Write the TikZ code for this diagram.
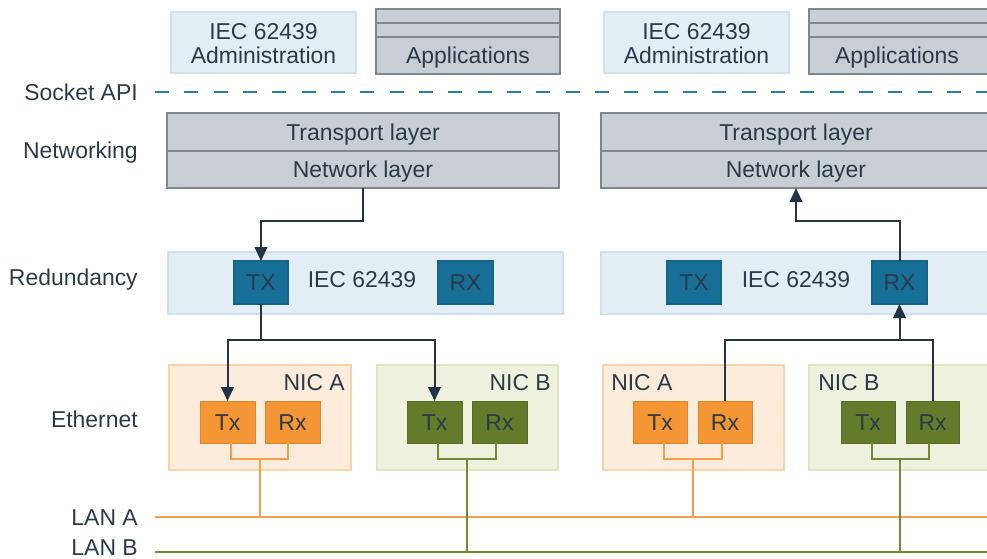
\documentclass[tikz,border=0pt]{standalone}
\usepackage{fontspec}
\setmainfont{Liberation Sans}
\usetikzlibrary{fit,arrows.meta,calc}
\definecolor{txt}{HTML}{2B3A48}
\definecolor{admfill}{HTML}{E2EEF4}
\definecolor{admdraw}{HTML}{CFE1EB}
\definecolor{grayfill}{HTML}{C8CED4}
\definecolor{graydraw}{HTML}{7E878D}
\definecolor{dashc}{HTML}{2E7FA8}
\definecolor{txfill}{HTML}{176E97}
\definecolor{txdraw}{HTML}{15648B}
\definecolor{arrowc}{HTML}{233445}
\definecolor{orangeC}{HTML}{F39633}
\definecolor{orangeL}{HTML}{F4A04A}
\definecolor{nicAfill}{HTML}{FDEBDB}
\definecolor{nicAdraw}{HTML}{FBD3AA}
\definecolor{greenC}{HTML}{657B2C}
\definecolor{greenL}{HTML}{6E8B3A}
\definecolor{nicBfill}{HTML}{EEF1DD}
\definecolor{nicBdraw}{HTML}{DFE6BE}
\begin{document}
\begin{tikzpicture}[x=0.75pt,y=-0.75pt,
  font=\fontsize{17.2}{18}\selectfont, text=txt,
  boxbase/.style={inner sep=0pt, outer sep=0pt},
  adm/.style={boxbase, fill=admfill, draw=admdraw, line width=1.2pt},
  gry/.style={boxbase, fill=grayfill, draw=graydraw, line width=1.3pt},
  trx/.style={boxbase, fill=txfill, draw=txdraw, line width=0.8pt},
  nica/.style={boxbase, fill=nicAfill, draw=nicAdraw, line width=1.2pt},
  nicb/.style={boxbase, fill=nicBfill, draw=nicBdraw, line width=1.2pt},
  porta/.style={boxbase, fill=orangeC, draw=orangeC!90!black, line width=0.5pt},
  portb/.style={boxbase, fill=greenC, draw=greenC!90!black, line width=0.5pt},
  capc/.style={inner sep=0pt, text height=12.3pt, text depth=0pt},
  txtn/.style={capc, anchor=center},
  twoln/.style={inner sep=0pt, align=center, anchor=center},
  lbl/.style={capc, anchor=east},
  flowl/.style={draw=arrowc, line width=1.5pt},
  flow/.style={flowl, -{Triangle[length=10.5pt,width=9.5pt]}},
  lanA/.style={draw=orangeL, line width=1.4pt},
  lanB/.style={draw=greenL, line width=1.4pt},
  sockline/.style={draw=dashc, line width=1.5pt, dash pattern=on 10.5pt off 11.5pt}
]
\useasboundingbox (0,0) rectangle (987,558);
\clip (0,0) rectangle (987,558);

% left labels
\node[lbl] (lSock) at (138,92) {Socket API};
\node[lbl] (lNet) at (138,150) {Networking};
\node[lbl] (lRed) at (138,277) {Redundancy};
\node[lbl] (lEth) at (138,419) {Ethernet};
\node[lbl] (lLanA) at (138,517) {LAN A};
\node[lbl] (lLanB) at (138,547) {LAN B};

% socket API line and LAN lines
\coordinate (sockS) at (155,92);
\coordinate (sockE) at (990,92);
\draw[sockline] (sockS) -- (sockE);
\coordinate (lanAS) at (155,517);
\coordinate (lanAE) at (990,517);
\coordinate (lanBS) at (155,552);
\coordinate (lanBE) at (990,552);
\draw[lanA] (lanAS) -- (lanAE);
\draw[lanB] (lanBS) -- (lanBE);

% top row
\node[adm, fit={(171,12)(356,73)}] (admL) {};
\node[twoln] (admLt) at (263.5,44) {IEC 62439\\Administration};
\node[gry, fit={(376,9)(560,23)}] (appL1) {};
\node[gry, fit={(376,23)(560,37)}] (appL2) {};
\node[gry, fit={(376,37)(560,74)}] (appL3) {};
\node[txtn] (appL3t) at (appL3.center) {Applications};
\node[adm, fit={(604,12)(789,73)}] (admR) {};
\node[twoln] (admRt) at (696.5,44) {IEC 62439\\Administration};
\node[gry, fit={(809,9)(996,23)}] (appR1) {};
\node[gry, fit={(809,23)(996,37)}] (appR2) {};
\node[gry, fit={(809,37)(996,74)}] (appR3) {};
\node[txtn] (appR3t) at (897,55.5) {Applications};

% networking
\node[gry, fit={(167,113)(559,151)}] (trL) {};
\node[gry, fit={(167,151)(559,188)}] (netL) {};
\node[gry, fit={(601,113)(991,151)}] (trR) {};
\node[gry, fit={(601,151)(991,188)}] (netR) {};
\node[txtn] (trLt) at (trL.center) {Transport layer};
\node[txtn] (netLt) at (netL.center) {Network layer};
\node[txtn] (trRt) at (trR.center) {Transport layer};
\node[txtn] (netRt) at (netR.center) {Network layer};

% redundancy
\node[adm, fit={(168,252)(563,314)}] (redL) {};
\node[adm, fit={(601,252)(996,314)}] (redR) {};
\node[txtn] (iecL) at (362,279) {IEC 62439};
\node[txtn] (iecR) at (796,279) {IEC 62439};
\node[trx, fit={(234,261)(288,304)}] (TXL) {};
\node[trx, fit={(438,261)(493,304)}] (RXL) {};
\node[trx, fit={(667,261)(721,304)}] (TXR) {};
\node[trx, fit={(872,261)(927,304)}] (RXR) {};
\node[txtn] (TXLt) at (TXL.center) {TX};
\node[txtn] (RXLt) at (RXL.center) {RX};
\node[txtn] (TXRt) at (TXR.center) {TX};
\node[txtn] (RXRt) at (RXR.center) {RX};

% NICs
\node[nica, fit={(169,365)(351,470)}] (nicAL) {};
\node[nicb, fit={(377,365)(558,470)}] (nicBL) {};
\node[nica, fit={(603,365)(784,470)}] (nicAR) {};
\node[nicb, fit={(809,365)(996,470)}] (nicBR) {};
\node[capc, anchor=east] (nAL) at (345,382) {NIC A};
\node[capc, anchor=east] (nBL) at (551,382) {NIC B};
\node[capc, anchor=west] (nAR) at (611,382) {NIC A};
\node[capc, anchor=west] (nBR) at (818,382) {NIC B};

\node[porta, fit={(200,401)(255,443)}] (txAL) {};
\node[porta, fit={(265,401)(320,443)}] (rxAL) {};
\node[portb, fit={(407,401)(462,443)}] (txBL) {};
\node[portb, fit={(472,401)(527,443)}] (rxBL) {};
\node[porta, fit={(633,401)(687,443)}] (txAR) {};
\node[porta, fit={(698,401)(752,443)}] (rxAR) {};
\node[portb, fit={(841,401)(895,443)}] (txBR) {};
\node[portb, fit={(906,401)(959,443)}] (rxBR) {};
\node[txtn] (txALt) at (txAL.center) {Tx};
\node[txtn] (rxALt) at (rxAL.center) {Rx};
\node[txtn] (txBLt) at (txBL.center) {Tx};
\node[txtn] (rxBLt) at (rxBL.center) {Rx};
\node[txtn] (txARt) at (txAR.center) {Tx};
\node[txtn] (rxARt) at (rxAR.center) {Rx};
\node[txtn] (txBRt) at (txBR.center) {Tx};
\node[txtn] (rxBRt) at (rxBR.center) {Rx};

% brackets to LANs
\coordinate (jAL) at (260,459);
\draw[lanA] ($(txAL.south)+(3.5,0)$) |- ($(rxAL.south)+(-4.5,16)$) -- ($(rxAL.south)+(-4.5,0)$);
\draw[lanA] (jAL) -- (jAL |- lanAS);
\coordinate (jBL) at (467,459);
\draw[lanB] ($(txBL.south)+(3.5,0)$) |- ($(rxBL.south)+(-3.5,16)$) -- ($(rxBL.south)+(-3.5,0)$);
\draw[lanB] (jBL) -- (jBL |- lanBS);
\coordinate (jAR) at (693,459);
\draw[lanA] ($(txAR.south)+(4,0)$) |- ($(rxAR.south)+(-3,16)$) -- ($(rxAR.south)+(-3,0)$);
\draw[lanA] (jAR) -- (jAR |- lanAS);
\coordinate (jBR) at (900,459);
\draw[lanB] ($(txBR.south)+(4,0)$) |- ($(rxBR.south)+(-3.5,16)$) -- ($(rxBR.south)+(-3.5,0)$);
\draw[lanB] (jBR) -- (jBR |- lanBS);

% flows left (send)
\draw[flow] (netL.south) -- ++(0,33) -| (TXL.north);
\draw[flow] (TXL.south) -- ++(0,36) -| (txAL.north);
\draw[flow] (TXL.south) -- ++(0,36) -| (txBL.north);

% flows right (receive)
\coordinate (jR) at (899.5,340);
\draw[flowl] (rxAR.north) |- (jR) -| (rxBR.north);
\draw[flow] (jR) -- (RXR.south);
\draw[flow] (RXR.north) -- ++(0,-40) -| (netR.south);
\end{tikzpicture}
\end{document}
